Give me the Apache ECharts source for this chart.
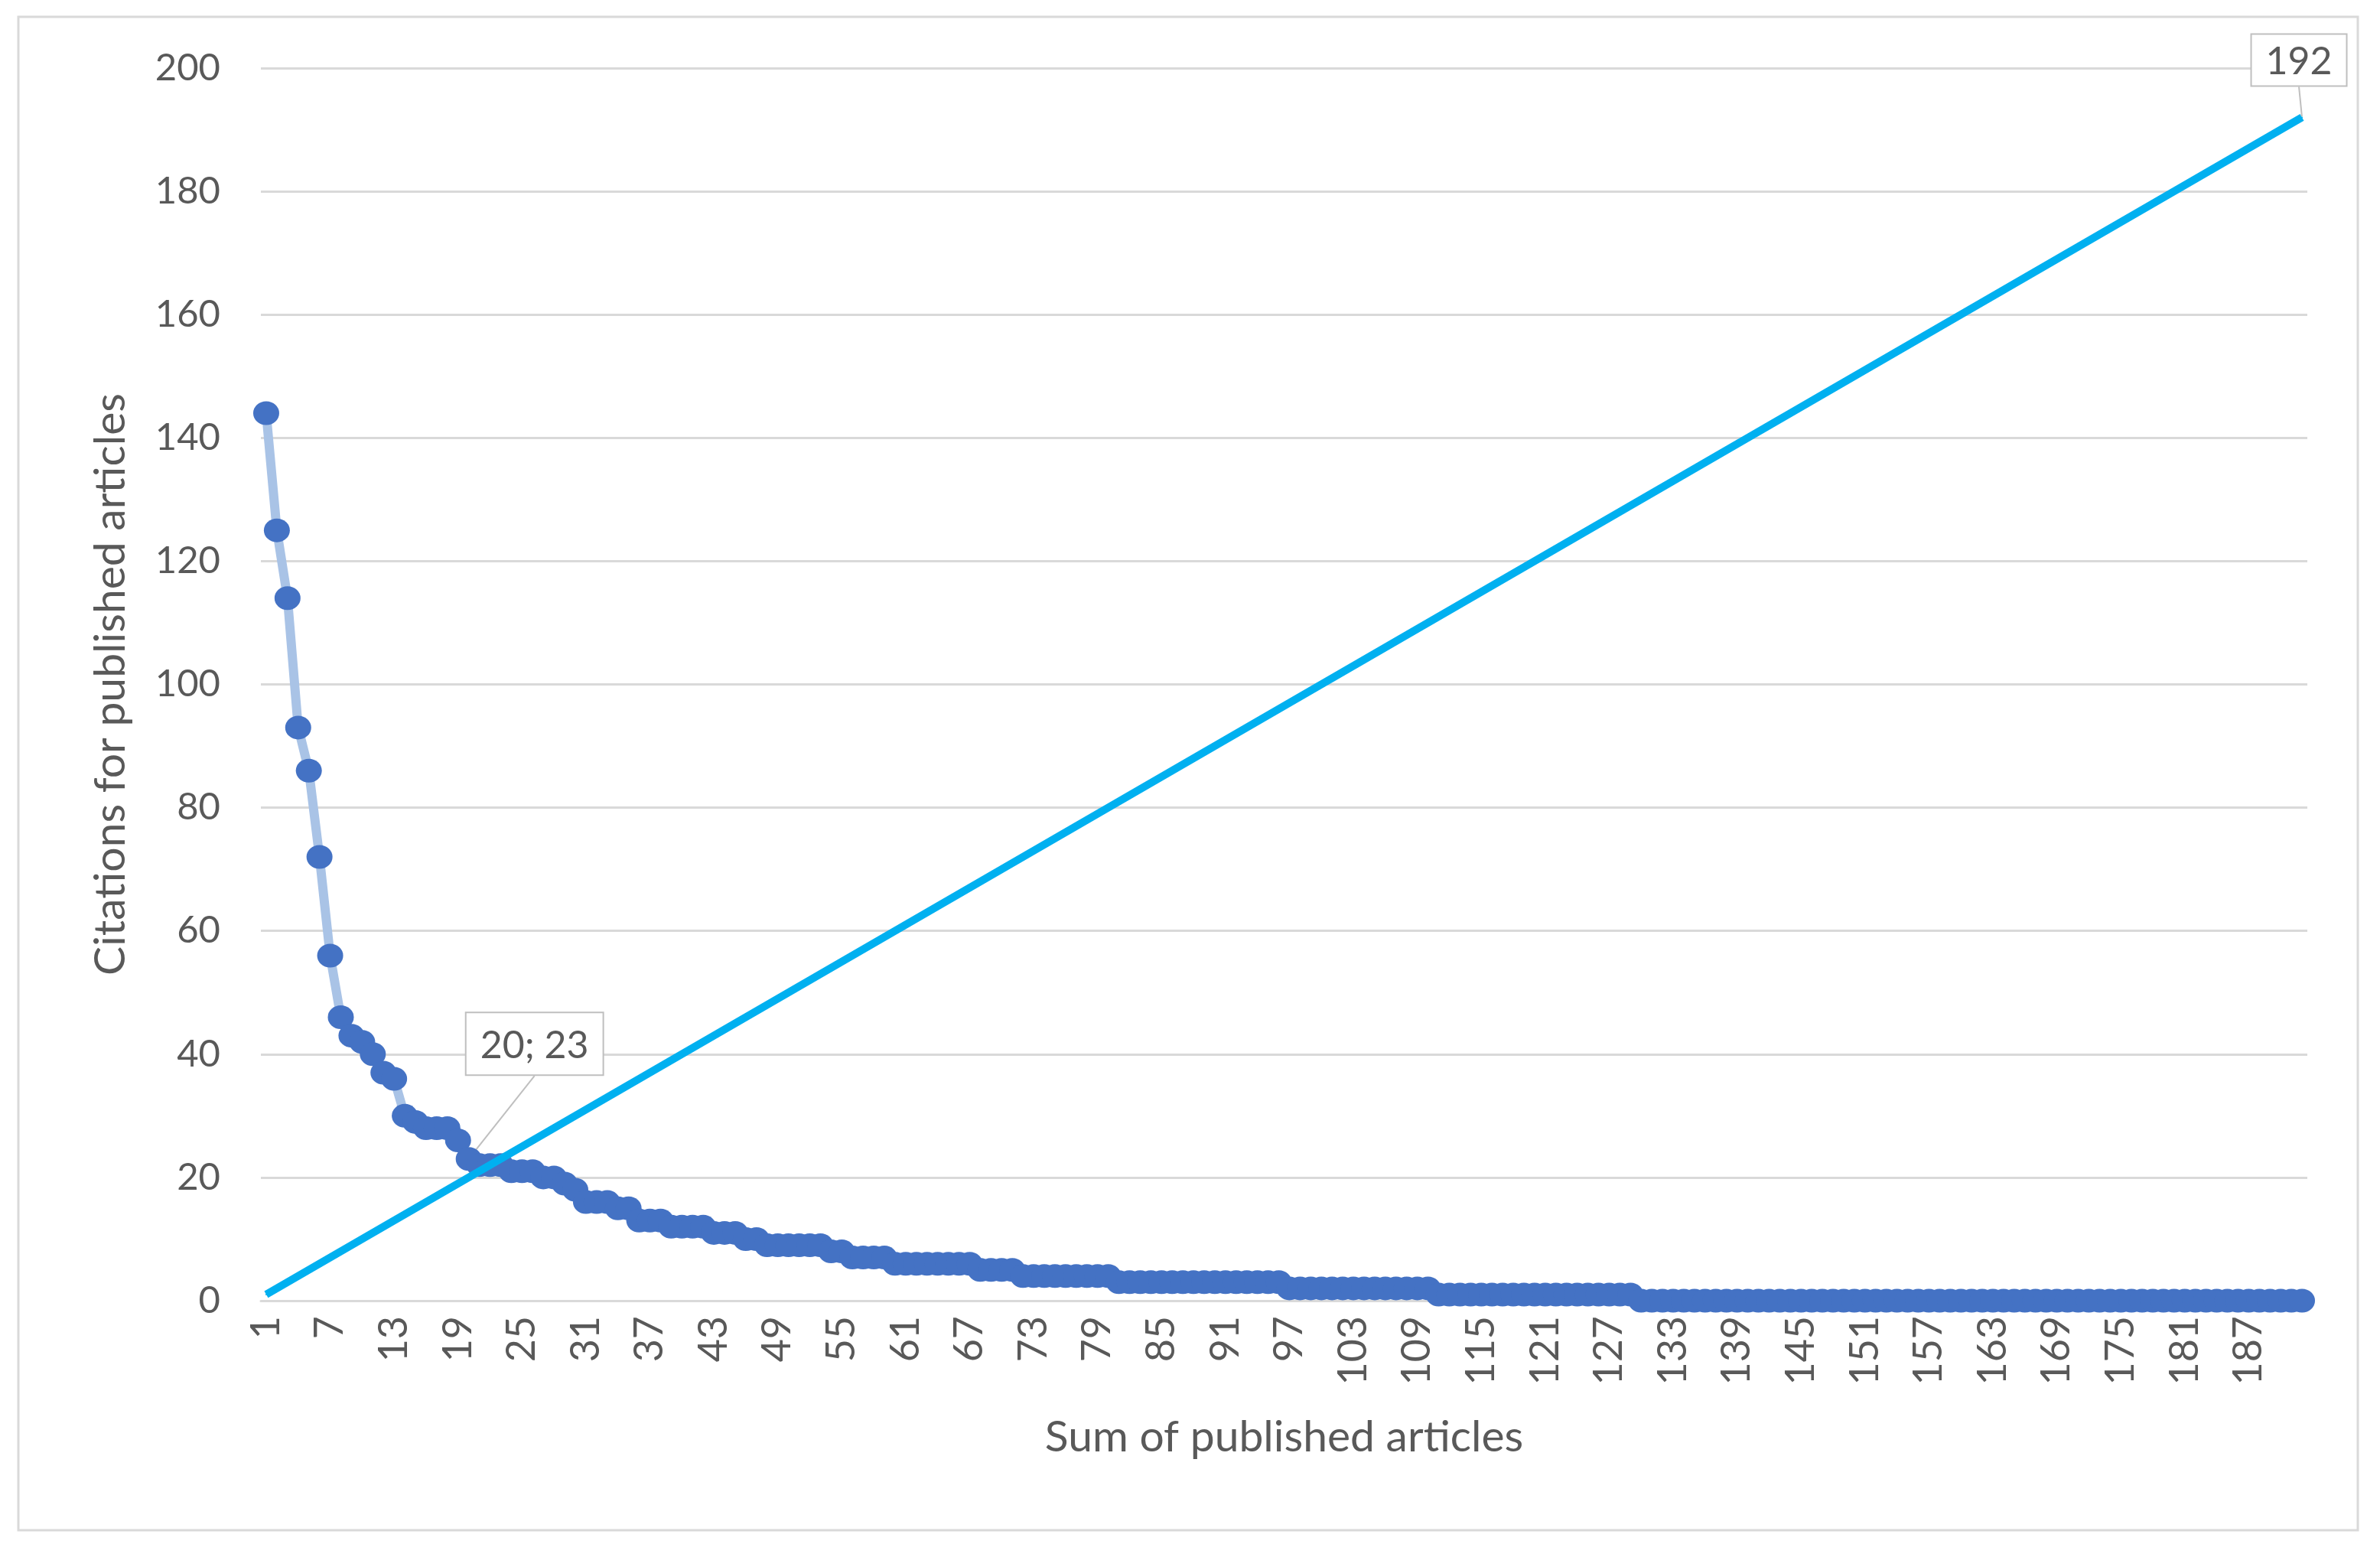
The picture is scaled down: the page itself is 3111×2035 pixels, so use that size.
<!DOCTYPE html>
<html>
<head>
<meta charset="utf-8">
<script src="https://cdn.jsdelivr.net/npm/echarts@6/dist/echarts.min.js"></script>
<style>
  html, body { margin: 0; padding: 0; background: #fff; }
  #chart { width: 3111px; height: 2035px; }
</style>
</head>
<body>
<div id="chart"></div>
<script>
  // x categories: article rank 1..192
  var articleRanks = [];
  for (var i = 1; i <= 192; i++) articleRanks.push(String(i));

  // citations per article, sorted descending
  var citations = [
    144, 125, 114, 93, 86, 72, 56, 46, 43, 42,
    40, 37, 36, 30, 29, 28, 28, 28, 26, 23,
    22, 22, 22, 21, 21, 21, 20, 20, 19, 18,
    16, 16, 16, 15, 15, 13, 13, 13, 12, 12,
    12, 12, 11, 11, 11, 10, 10, 9, 9, 9,
    9, 9, 9, 8, 8, 7, 7, 7, 7, 6,
    6, 6, 6, 6, 6, 6, 6, 5, 5, 5,
    5, 4, 4, 4, 4, 4, 4, 4, 4, 4,
    3, 3, 3, 3, 3, 3, 3, 3, 3, 3,
    3, 3, 3, 3, 3, 3, 2, 2, 2, 2,
    2, 2, 2, 2, 2, 2, 2, 2, 2, 2,
    1, 1, 1, 1, 1, 1, 1, 1, 1, 1,
    1, 1, 1, 1, 1, 1, 1, 1, 1, 0,
    0, 0, 0, 0, 0, 0, 0, 0, 0, 0,
    0, 0, 0, 0, 0, 0, 0, 0, 0, 0,
    0, 0, 0, 0, 0, 0, 0, 0, 0, 0,
    0, 0, 0, 0, 0, 0, 0, 0, 0, 0,
    0, 0, 0, 0, 0, 0, 0, 0, 0, 0,
    0, 0, 0, 0, 0, 0, 0, 0, 0, 0,
    0, 0
  ];

  // straight reference line (start / end points)
  var refLine = [['1', 1], ['192', 192]];

  var yTicks = { min: 0, max: 200, interval: 20 };

  var font = 'Lato';
  var grey = '#595959';

  var calloutStyle = {
    show: true,
    position: 'top',
    fontFamily: font,
    fontSize: 50,
    color: grey,
    backgroundColor: '#fff',
    borderColor: '#BFBFBF',
    borderWidth: 2
  };
  var calloutLine = { show: true, lineStyle: { color: '#BFBFBF', width: 2 } };

  var citeData = citations.map(function (v, idx) {
    if (idx === 19) {
      return {
        value: v,
        label: Object.assign({}, calloutStyle, { padding: [18, 18, 12, 18], formatter: '20; 23' }),
        labelLine: calloutLine
      };
    }
    return v;
  });

  var refData = [
    refLine[0],
    {
      value: refLine[1],
      label: Object.assign({}, calloutStyle, { padding: [10, 18, 6, 18], formatter: '192' }),
      labelLine: calloutLine
    }
  ];

  var chart = echarts.init(document.getElementById('chart'));
  chart.setOption({
    animation: false,
    backgroundColor: '#fff',
    textStyle: { fontFamily: font },
    graphic: [{
      type: 'rect',
      shape: { x: 24, y: 22, width: 3058, height: 1978 },
      style: { fill: 'none', stroke: '#D9D9D9', lineWidth: 3 },
      silent: true
    }],
    grid: { left: 341, right: 95, top: 89, bottom: 335 },
    xAxis: {
      type: 'category',
      data: articleRanks,
      boundaryGap: true,
      name: 'Sum of published articles',
      nameLocation: 'middle',
      nameGap: 150,
      nameTextStyle: { fontFamily: font, fontSize: 57, color: grey },
      axisLine: { show: true, lineStyle: { color: '#D9D9D9', width: 3 } },
      axisTick: { show: false },
      axisLabel: {
        interval: 5,
        rotate: 90,
        margin: 20,
        fontFamily: font,
        fontSize: 52,
        color: grey
      },
      splitLine: { show: false }
    },
    yAxis: {
      type: 'value',
      min: yTicks.min,
      max: yTicks.max,
      interval: yTicks.interval,
      name: 'Citations for published articles',
      nameLocation: 'middle',
      nameGap: 168,
      nameRotate: 90,
      nameTextStyle: { fontFamily: font, fontSize: 57, color: grey },
      axisLine: { show: false },
      axisTick: { show: false },
      axisLabel: { margin: 53, fontFamily: font, fontSize: 49, color: grey },
      splitLine: { lineStyle: { color: '#D9D9D9', width: 3 } }
    },
    series: [
      {
        name: 'Citations',
        type: 'line',
        data: citeData,
        showSymbol: true,
        showAllSymbol: true,
        symbol: 'circle',
        symbolSize: [34, 31],
        itemStyle: { color: '#4472C4' },
        lineStyle: { color: '#A9C3E6', width: 12 },
        labelLayout: function (p) {
          if (p.dataIndex === 19) return { dx: 86, dy: -90 };
          return {};
        },
        z: 2
      },
      {
        name: 'Articles',
        type: 'line',
        data: refData,
        showSymbol: true,
        symbol: 'circle',
        symbolSize: 2,
        itemStyle: { color: '#00B0F0' },
        lineStyle: { color: '#00B0F0', width: 10 },
        labelLayout: function (p) {
          if (p.dataIndex === 1) return { dx: -4, dy: -36 };
          return {};
        },
        z: 3
      }
    ]
  });
</script>
</body>
</html>
